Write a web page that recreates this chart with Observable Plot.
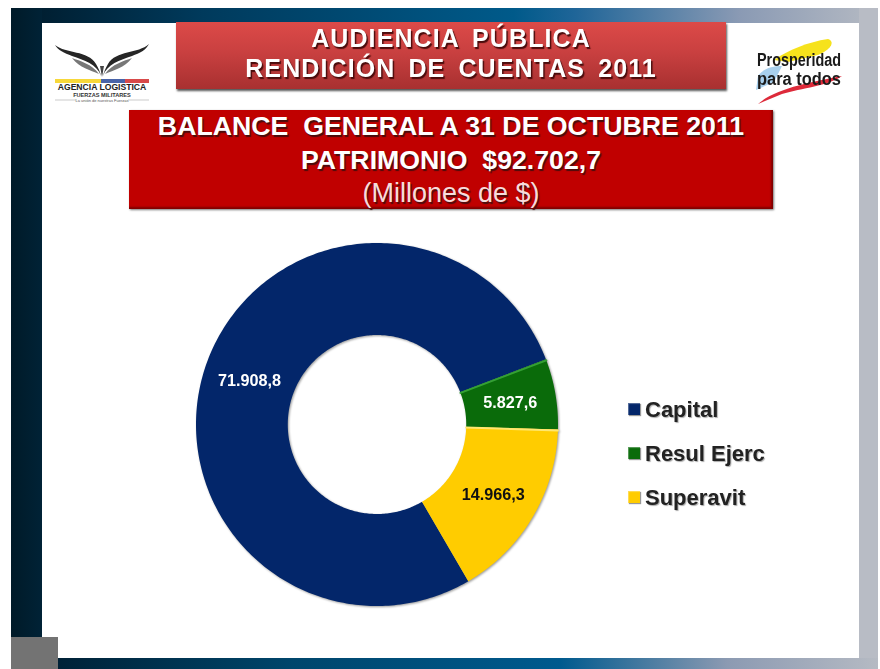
<!DOCTYPE html>
<html lang="es">
<head>
<meta charset="utf-8">
<script src="https://cdn.jsdelivr.net/npm/d3@7"></script>
<script src="https://cdn.jsdelivr.net/npm/@observablehq/plot@0.6"></script>
<style>
html,body{margin:0;padding:0;background:#fff;width:880px;height:669px;overflow:hidden}
#stage{position:relative;width:880px;height:669px;overflow:hidden;font-family:"Liberation Sans",Arial,sans-serif;filter:blur(.6px)}
#stage>div,#stage>svg{position:absolute}
.c{text-align:center;white-space:nowrap;color:#fff}
.sh{text-shadow:1.5px 1.5px 1px #4a0c0c}
#legend div.row{position:absolute;left:0;font-weight:bold;font-size:22px;color:#222;text-shadow:1px 1px 1px #aaa;white-space:nowrap}
#legend i{position:absolute;left:-17px;top:6px;width:12px;height:12px;box-shadow:inset 1px 1px 1px rgba(255,255,255,.35),1px 1px 1px #999}
</style>
</head>
<body>
<div id="stage">
  <!-- slide frame -->
  <div style="left:11px;top:8px;width:867px;height:15px;background:linear-gradient(90deg,#001a2a 0%,#003a5c 22%,#005a8a 58%,#1f6598 65%,#8a9ab4 84%,#b5bac3 100%)"></div>
  <div style="left:11px;top:8px;width:31px;height:661px;background:linear-gradient(90deg,#001a28,#002236)"></div>
  <div style="left:859px;top:8px;width:19px;height:661px;background:#b8bcc5"></div>
  <div style="left:42px;top:658px;width:836px;height:11px;background:linear-gradient(90deg,#001f33 0%,#00466c 30%,#005a8e 62%,#8c9ab2 82%,#b5bac3 100%)"></div>
  <div style="left:42px;top:23px;width:817px;height:635px;background:#fff"></div>
  <div style="left:11px;top:637px;width:47px;height:32px;background:#737373"></div>

  <!-- left logo -->
  <svg style="left:52px;top:40px" width="100" height="66" viewBox="0 0 100 66">
    <path d="M3 5C14 14 36 10 44 24C47 29 48 32 49 36C45 24 32 20 20 16C12 13 6 10 3 5Z" fill="#262626"/>
    <path d="M97 4C86 14 64 10 56 24C53 29 52 32 51 36C55 24 68 20 80 16C88 13 94 10 97 4Z" fill="#262626"/>
    <path d="M20 18C28 21 40 24 47 34C38 30 28 28 20 18Z" fill="#777"/>
    <path d="M80 18C72 21 60 24 53 34C62 30 72 28 80 18Z" fill="#777"/>
    <path d="M48 26L50 37L52 26Z" fill="#444"/>
    <rect x="3" y="39" width="46" height="4" fill="#f7d83a"/>
    <rect x="49" y="39" width="24" height="4" fill="#4a64a8"/>
    <rect x="73" y="39" width="24" height="4" fill="#d84a4a"/>
    <text x="50" y="50" text-anchor="middle" font-size="8.6" font-weight="bold" fill="#222" font-family="Liberation Sans">AGENCIA LOGISTICA</text>
    <text x="50" y="56.5" text-anchor="middle" font-size="5.6" font-weight="bold" fill="#333" font-family="Liberation Sans">FUERZAS MILITARES</text>
    <text x="50" y="62" text-anchor="middle" font-size="4" fill="#555" font-family="Liberation Sans">La unión de nuestras Fuerzas</text>
    <path d="M3 60H24M76 60H97" stroke="#aaa" stroke-width=".6"/>
  </svg>

  <!-- right logo -->
  <svg style="left:752px;top:36px" width="118" height="72" viewBox="0 0 118 72">
    <path d="M22 24C36 14 56 6 76 3C84 6 78 14 66 19L36 26Z" fill="#f6e21c"/>
    <path d="M6 40C12 32 20 30 30 30L22 46L4 54Z" fill="#a8d0ee"/>
    <path d="M6 68C24 52 60 46 90 40C76 50 50 52 30 58Z" fill="#dd2a3a"/>
    <text x="5" y="30" font-size="18" font-weight="bold" fill="#1a1a1a" textLength="84" lengthAdjust="spacingAndGlyphs" font-family="Liberation Sans">Prosperidad</text>
    <text x="5" y="49" font-size="18" font-weight="bold" fill="#1a1a1a" textLength="84" lengthAdjust="spacingAndGlyphs" font-family="Liberation Sans">para todos</text>
  </svg>

  <!-- header boxes -->
  <div class="c sh" style="left:176px;top:22px;width:550px;height:67px;background:linear-gradient(180deg,#dc4a48 0%,#c94040 45%,#a83030 100%);box-shadow:1px 2px 2px #555;font-weight:bold;font-size:25px;line-height:30px;word-spacing:5px;letter-spacing:1.1px;padding-top:1px;box-sizing:border-box">
    AUDIENCIA PÚBLICA<br>RENDICIÓN DE CUENTAS 2011
  </div>
  <div class="c sh" style="left:129px;top:110px;width:644px;height:99px;background:#c00000;box-shadow:inset -2px -2px 2px #800000,1px 1px 2px #777;font-weight:bold;font-size:26.7px;line-height:33.5px;box-sizing:border-box;padding-top:0">
    BALANCE&nbsp; GENERAL A 31 DE OCTUBRE 2011<br>PATRIMONIO&nbsp; $92.702,7<br><span style="font-weight:normal;font-size:27px;color:#f6dcdc">(Millones de $)</span>
  </div>

  <div id="chart" style="left:0;top:0"></div>
  <div id="legend" style="left:645px;top:0"></div>
</div>

<script>
// Data
const categories = ["Capital", "Resul Ejerc", "Superavit"];
const values = [71908.8, 5827.6, 14966.3];
const valueLabels = ["71.908,8", "5.827,6", "14.966,3"];
const colors = ["#03266a", "#0a6b0a", "#ffcc00"];
const edgeColors = ["#0a2f78", "#35a035", "#ffe770"];
const labelColors = ["#ffffff", "#ffffff", "#111111"];
const firstAngle = 149.7;          // degrees clockwise from 12 o'clock
const holeRatio = 0.493;

const slices = d3.pie().sort(null).startAngle(firstAngle * Math.PI / 180)
  .endAngle((firstAngle + 360) * Math.PI / 180)(values);

// Ring sectors in unit-circle coordinates; the scales place them on the page
const polar = (a, r) => ({x: r * Math.sin(a), y: r * Math.cos(a)});
const sectorPoints = slices.flatMap((s, i) => {
  const n = Math.ceil((s.endAngle - s.startAngle) * 60);
  const t = d3.range(n + 1).map(k => s.startAngle + (s.endAngle - s.startAngle) * k / n);
  return [...t.map(a => polar(a, 1)), ...t.reverse().map(a => polar(a, holeRatio))]
    .map(p => ({...p, name: categories[i]}));
});
const edges = slices.flatMap((s, i) => i === 0 ? [] :
  [{...polar(s.startAngle + .006, holeRatio), name: categories[i], c: edgeColors[i]},
   {...polar(s.startAngle + .006, 1), name: categories[i], c: edgeColors[i]}]);
const labels = slices.map((s, i) => ({
  ...polar((s.startAngle + s.endAngle) / 2, (1 + holeRatio) / 2),
  text: valueLabels[i], c: labelColors[i]
}));

const chart = Plot.plot({
  width: 880, height: 669,
  marginLeft: 0, marginRight: 0, marginTop: 0, marginBottom: 0,
  x: {axis: null, domain: [-1, 1], range: [195.5, 557.5]},
  y: {axis: null, domain: [-1, 1], range: [605.5, 242.5]},
  color: {domain: categories, range: colors},
  style: {background: "transparent", overflow: "visible", filter: "drop-shadow(1px 1px 1px rgba(0,0,0,.4))"},
  marks: [
    Plot.line(sectorPoints, {x: "x", y: "y", z: "name", fill: "name", stroke: "none"}),
    Plot.line(edges, {x: "x", y: "y", z: "name", stroke: "c", strokeWidth: 2}),
    Plot.text(labels, {x: "x", y: "y", text: "text", fill: "c", fontSize: 16.2, fontWeight: "bold",
      fontFamily: "Liberation Sans, Arial, sans-serif", dy: 1})
  ]
});
document.getElementById("chart").append(chart);

// Legend to the right of the ring, built from the same categories and colours
const legend = document.getElementById("legend");
categories.forEach((c, i) => {
  const row = document.createElement("div");
  row.className = "row";
  row.style.top = (397 + i * 44) + "px";
  row.innerHTML = `<i style="background:${colors[i]}"></i>${c}`;
  legend.append(row);
});
</script>
</body>
</html>
